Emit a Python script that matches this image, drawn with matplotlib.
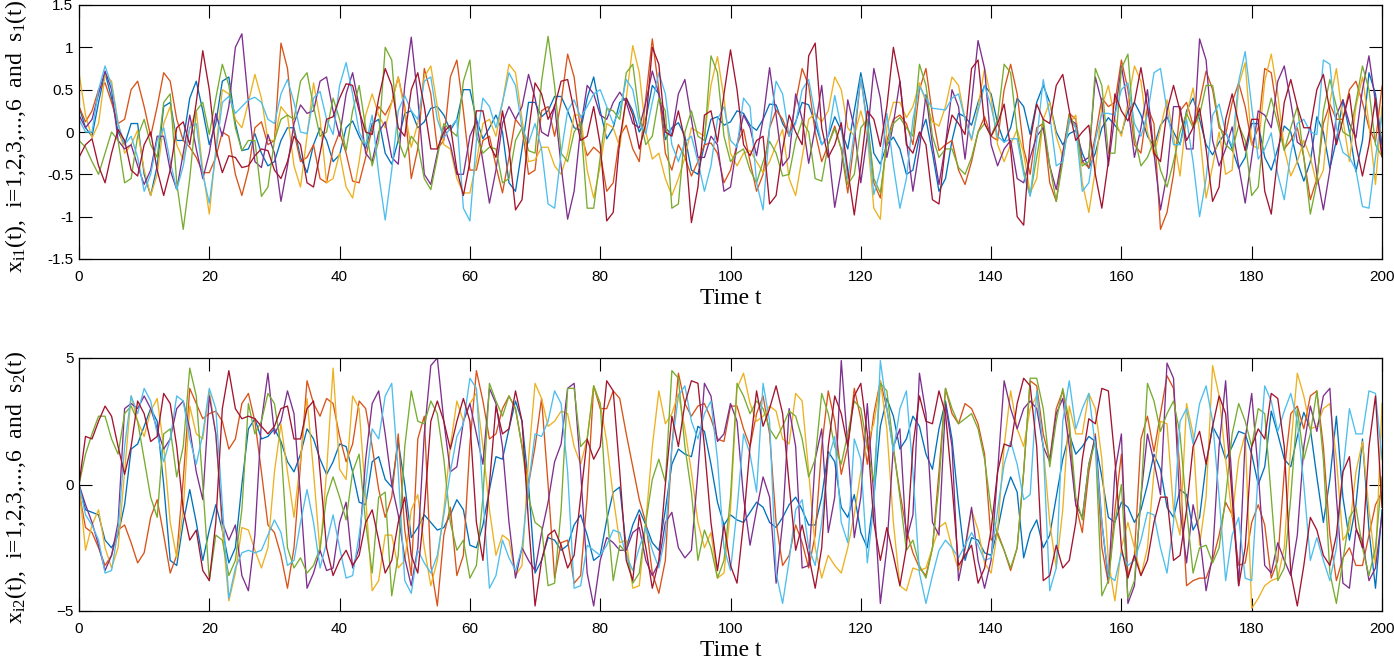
import numpy as np
import matplotlib
matplotlib.use("Agg")
import matplotlib.pyplot as plt

# values, one per time unit (10 per row)
time_t = np.arange(0, 201)

####################################
#              x_i1(t)             #
####################################
x1_blue = [
    .30, .05, -.05, .35, .70, .40, .00, -.15, .10, .10,
    -.50, -.75, -.40, .30, .35, -.10, -.10, .40, .60, .25,
    -.15, .10, .60, .65, .10, -.22, -.20, -.02, -.25, -.40,
    -.35, -.10, .05, .05, -.30, -.48, -.15, .05, -.10, -.35,
    -.27, .05, .13, -.05, -.20, .10, .15, -.25, -.38, -.10,
    .22, .25, .05, .12, .28, .30, .20, .02, .15, .50,
    .50, .15, -.08, .05, .20, .00, -.60, -.70, -.20, .35,
    .35, .18, .25, .42, .42, .25, .05, .02, .40, .65,
    .25, -.08, .05, .35, .40, .25, .00, .15, .55, .45,
    -.09, .05, .11, -.05, -.45, -.50, -.15, .15, .18, .08,
    .12, .25, .22, .08, .02, .15, .33, .32, .10, -.03,
    .12, .35, .32, .10, -.15, -.05, .18, .02, -.20, .25,
    .70, .30, -.25, -.38, -.15, -.06, -.20, -.50, -.45, -.05,
    .15, -.25, -.70, -.55, -.10, .22, .18, .08, .35, .55,
    .45, .10, -.12, .05, .40, .30, -.03, .35, .55, .35,
    .00, -.15, -.02, .02, -.25, -.43, -.25, .05, .17, .08,
    -.02, .25, .35, .20, -.05, -.17, .08, .18, .00, -.15,
    .25, .40, .15, -.15, -.27, -.12, .00, -.20, -.43, -.30,
    .10, .10, -.30, -.45, -.20, .07, .00, -.35, -.58, -.35,
    .18, .00, -.43, -.10, .38, .00, -.47, -.10, .70, .45,
    -.15,
]
x1_orange = [
    .30, .12, .25, .50, .58, .35, .10, .15, .50, .60,
    .30, -.05, .30, .70, .60, .15, -.10, -.18, -.30, -.48,
    -.48, -.30, .00, -.05, -.50, -.75, -.45, .05, .12, -.15,
    -.10, 1.05, .75, .00, -.35, -.30, -.15, -.55, -.60, -.20,
    .00, -.25, -.58, -.60, -.30, .05, .30, .20, .35, .65,
    .30, -.55, -.20, .75, .45, -.20, -.10, .65, .85, .25,
    -.45, -.45, -.10, -.05, -.40, -.72, -.30, .15, .05, -.50,
    -.45, .25, .30, -.05, .35, .92, .65, .00, -.28, -.18,
    -.25, -.70, -.60, -.05, .08, -.20, -.35, .40, 1.10, .50,
    -.25, -.45, -.15, -.30, -.52, -.35, -.15, -.13, -.25, -.60,
    -.45, -.15, .03, -.35, -.70, -.50, .05, .26, .15, -.05,
    .35, .75, .55, .00, -.35, -.15, .07, -.20, -.72, -.10,
    .65, .10, -.60, -.78, -.10, .15, .20, .10, -.15, .50,
    .75, .20, -.22, -.15, -.10, -.45, -.62, -.35, .00, .18,
    -.05, -.10, .50, .80, .45, -.20, -.50, .05, .10, -.60,
    -.82, -.25, .22, .15, -.35, -.42, -.05, .40, .30, .35,
    .85, .50, -.15, -.25, .30, .10, -1.15, -.95, -.50, .25,
    .35, .08, .35, .72, .50, .05, -.03, .35, .58, .30,
    -.15, .05, .75, .70, .20, -.20, -.10, .05, -.30, -.80,
    -.55, .10, .33, .15, .15, .50, .60, .35, .05, -.12,
    .54,
]
x1_yellow = [
    .70, .20, -.07, .10, .68, .60, .10, -.25, -.15, .02,
    -.45, -.75, -.50, .10, .30, -.15, -.33, .05, .25, -.45,
    -.97, -.20, .50, .45, .15, .05, .35, .68, .40, -.10,
    -.10, .30, .20, -.40, -.65, -.05, .58, .15, -.60, -.55,
    -.25, -.65, -.78, -.35, .20, .45, .20, .05, .35, .65,
    .25, -.18, .10, .65, .78, .30, -.15, -.20, -.55, -.72,
    -.72, -.35, .10, .15, -.05, .35, .80, .70, .15, -.35,
    -.33, -.18, -.18, -.40, -.50, -.25, .20, .20, -.45, -.78,
    -.40, .10, .05, -.18, .40, 1.02, .70, .00, -.32, -.25,
    -.55, -.75, -.55, -.30, .05, .00, -.05, .55, .89, .40,
    -.25, -.40, -.25, -.22, -.35, -.48, -.35, -.15, .03, -.55,
    -.75, -.30, .15, .22, .12, .25, .65, .50, .05, -.05,
    .25, -.05, -.90, -1.03, .05, .35, .35, .17, .30, .58,
    .35, .12, .07, .30, .65, .55, .15, -.10, .30, .75,
    .40, -.15, -.35, -.15, .03, -.25, -.72, -.55, .15, .35,
    -.05, -.30, .10, .20, -.60, -.95, -.45, .30, .55, .15,
    -.05, .35, .78, .60, .00, -.28, .05, .38, -.05, -.52,
    .20, .52, .00, -.78, -.40, .00, -.50, -.45, .55, .82,
    -.15, -.20, .60, .92, .45, -.20, -.52, -.35, -.10, -.30,
    -.62, -.45, .35, .75, .15, -.35, .30, .65, .10, -.62,
    .30,
]
x1_purple = [
    .20, .05, .15, .45, .72, .50, -.10, -.20, -.15, -.40,
    -.62, -.45, -.05, -.05, -.45, -.68, -.25, .20, -.20, -.55,
    -.25, .22, -.05, .30, 1.00, 1.16, .35, -.35, -.42, -.03,
    -.25, -.82, -.40, .10, .32, .22, .25, .60, .65, .25,
    -.05, .45, .70, .30, -.25, -.35, .00, .12, -.30, -.38,
    .55, 1.12, .40, -.50, -.62, -.25, .07, -.15, -.50, -.50,
    -.05, .13, -.35, -.84, -.45, .10, .30, .15, .30, .68,
    .40, .00, -.05, .32, -.40, -1.03, -.70, .05, .55, .45,
    .20, .15, .35, .47, .35, .10, .05, .35, .72, .45,
    .05, -.03, .45, .62, .15, -.30, -.30, -.05, -.15, -.70,
    -.65, -.15, .20, .05, -.28, .15, .76, .20, -.40, -.30,
    .45, .15, -.37, .05, .55, -.20, -.89, -.45, .38, .05,
    -.60, -.05, .75, .40, -.30, .10, .60, -.10, -.70, -.20,
    .44, -.15, -.62, -.15, .50, .30, -.32, .35, 1.08, .75,
    -.15, -.40, -.20, -.10, -.55, -.60, -.30, -.05, .05, -.40,
    -.68, -.25, .15, .10, -.35, -.30, .65, .35, -.40, .20,
    .78, .30, -.30, .05, .50, -.25, -.92, -.50, .30, .30,
    -.20, -.20, 1.10, .85, -.10, -.40, -.20, .06, -.40, -.84,
    -.30, .25, .20, .05, .60, .78, .35, -.12, -.18, .06,
    -.50, -.92, -.45, .20, .38, .10, -.07, .50, .90, .35,
    -.29,
]
x1_green = [
    -.10, -.18, -.35, -.50, -.25, .00, -.10, -.60, -.55, -.05,
    .15, -.15, -.30, .35, .45, -.60, -1.15, -.55, .25, .35,
    -.03, .40, .80, .55, .05, -.22, -.10, -.10, -.76, -.65,
    -.10, .15, .20, .15, .60, .70, .30, -.05, .00, .40,
    .15, -.22, .25, .55, .05, -.40, -.10, 1.00, .85, -.10,
    -.30, -.05, -.15, -.55, -.68, -.30, .10, .02, -.05, .60,
    .85, -.05, -.25, -.18, -.20, -.60, -.55, -.10, .05, -.22,
    -.25, .60, 1.13, .55, -.25, -.35, .00, .12, -.90, -.90,
    -.30, .28, .25, .15, .70, .80, .20, -.15, -.05, .40,
    .25, -.90, -.85, .00, .25, -.05, -.10, .90, .70, -.05,
    -.35, -.25, -.20, -.45, -.60, -.35, -.11, -.25, -.52, -.50,
    -.10, .13, .00, -.55, -.58, -.15, .04, -.20, -.62, -.50,
    .05, .15, -.55, -.72, -.15, .10, .17, .05, -.05, .80,
    .55, -.05, -.30, -.20, -.20, -.42, -.50, -.30, .00, .10,
    -.05, .15, .80, .70, .00, -.45, -.75, -.30, .15, -.40,
    -.82, -.35, .20, .05, -.40, -.35, .75, .55, -.25, -.25,
    .75, .92, -.05, -.40, -.30, -.10, -.45, -.65, -.35, .00,
    .22, .05, .20, .55, .55, .10, -.15, -.22, .08, -.10,
    -.75, -.65, .10, .40, .10, -.22, .05, .30, -.30, -.97,
    -.60, .25, .62, .30, .00, -.05, .35, .78, .50, -.15,
    -.29,
]
x1_lightblue = [
    .15, .00, .00, .50, .78, .55, .10, -.15, -.05, -.30,
    -.70, -.50, -.10, .05, -.35, -.68, -.40, .05, .10, -.50,
    -.84, -.25, .35, .42, .22, .30, .38, .41, .35, .15,
    .10, .45, .62, .35, .00, -.02, .40, .48, .15, -.03,
    .55, .82, .45, .00, -.15, .20, -.50, -1.04, -.45, .25,
    .43, .25, .15, .60, .65, .15, -.07, .05, .15, -.90,
    -1.05, -.10, .40, .30, .05, .35, .70, .55, .05, -.13,
    .10, -.20, -.85, -.90, -.25, .25, .38, .17, .30, .45,
    .50, .30, .10, .25, .62, .50, .10, -.02, .35, .70,
    .45, -.15, -.35, -.12, -.05, -.35, -.70, -.40, .15, .30,
    -.10, -.18, .40, .30, -.60, -.92, .05, .60, .45, -.05,
    .10, .50, .62, .20, -.15, -.05, .43, .05, -.55, .00,
    .65, .05, -.74, -.45, .22, -.40, -.90, -.55, .15, .54,
    .40, .28, .27, .26, .40, .45, .15, -.08, .25, .55,
    .30, -.05, -.12, -.08, -.08, -.50, -.76, -.10, .62, .20,
    -.40, -.35, .15, .05, -.70, -.60, -.10, .22, .22, .20,
    .50, .58, .10, -.05, .20, .70, .75, .25, -.15, -.15,
    .15, -.35, -1.00, -.55, .20, .33, .00, -.17, .60, .95,
    .30, -.32, -.20, -.01, -.50, -.80, -.25, .10, .15, .00,
    -.03, .85, .80, .05, -.24, -.30, -.45, -.88, -.90, -.30,
    .20,
]
x1_maroon = [
    -.30, -.15, -.08, -.40, -.60, -.25, .03, -.10, -.45, -.52,
    -.15, .00, -.45, -.75, -.45, .05, .12, -.15, .35, .96,
    .50, -.20, -.48, -.28, -.30, -.42, -.40, -.28, -.20, -.22,
    -.45, -.55, -.35, -.05, -.15, -.60, -.65, -.25, .15, .18,
    .40, .57, .55, .25, .00, -.03, .40, .75, .55, .05,
    -.05, .50, .70, .30, -.20, -.20, .00, .08, -.45, -.75,
    -.35, .25, .25, -.15, -.30, .25, -.20, -.92, -.80, .00,
    .58, .45, .15, .30, .60, .62, .25, -.10, -.05, .30,
    -.15, -1.05, -.95, -.10, .40, .20, -.20, .10, 1.00, .80,
    .00, -.05, .25, -.10, -1.07, -.65, .20, .25, -.12, .45,
    .97, .50, -.15, -.28, -.10, -.05, -.85, -.75, -.20, .20,
    .00, -.15, .90, 1.05, .05, -.30, -.15, .11, -.45, -.98,
    -.40, .25, .15, -.17, .30, 1.00, .60, -.15, -.25, .00,
    -.15, -.80, -.85, -.15, .20, .10, -.03, .75, .85, .10,
    -.05, .10, .33, -.20, -1.00, -1.10, -.10, .33, .15, .10,
    .55, .68, .25, -.10, .00, .08, -.50, -.90, -.35, .45,
    .25, .13, .35, .76, .30, -.25, -.35, .25, .55, .25,
    -.10, .05, .28, -.20, -.82, -.65, .15, .45, .10, -.22,
    .15, .15, -.70, -.97, -.30, .35, .62, .30, .05, .05,
    .50, .68, .25, -.15, .15, .45, -.15, -.52, -.15, .40,
    -.29,
]

####################################
#              x_i2(t)             #
####################################
x2_blue = [
    0, -1.0, -1.1, -1.2, -2.2, -2.5, -2.0, -.8, 1.4, 1.6,
    2.3, 3.0, 2.5, .0, -3.0, -3.2, -1.5, -.2, -1.5, -3.0,
    -1.8, -.8, -1.8, -3.1, -2.5, .0, 2.2, 2.6, 1.8, 1.9,
    2.2, 1.7, .9, .5, 1.2, 2.2, 1.8, 1.0, .4, .9,
    1.6, 1.5, .5, -.7, -.8, .9, 1.1, .2, -.1, 1.7,
    .0, -2.1, -1.7, -1.2, -1.5, -1.8, -1.7, -1.2, -.6, -1.0,
    -2.4, -2.5, -1.6, -.2, 1.1, 1.0, 2.2, 3.3, 2.5, .0,
    -3.5, -3.0, -2.1, -2.2, -2.6, -2.4, -1.6, -1.2, -2.0, -3.0,
    -2.8, -1.4, -.3, -.1, -2.5, -1.6, -1.0, -1.6, -2.3, -2.6,
    -1.0, .8, 1.4, 1.2, 1.1, 2.3, 2.1, .8, -.7, -1.6,
    -1.2, -1.4, -1.5, -1.1, -.7, -.9, -1.5, -1.7, -1.3, -.8,
    -.5, -1.0, -1.6, -1.6, -.5, 1.3, .9, -.9, -1.3, -.4,
    -1.9, -2.5, -.5, 2.3, 3.4, 2.7, 1.4, 1.8, 2.7, 2.3,
    1.2, .6, 2.2, 3.3, 1.8, -.8, -3.0, -2.1, -2.2, -2.7,
    -2.8, -1.8, -.5, .3, -.3, -2.9, -1.9, -1.4, -2.5, -2.0,
    -.5, 1.0, 2.0, 1.2, 1.5, 1.9, 1.7, .3, -1.3, -1.5,
    -.7, -.9, -1.5, -1.0, .0, 1.2, .6, -.9, -1.3, -.2,
    -.4, -1.8, -1.3, .8, 2.3, 1.8, 1.0, 1.5, 2.1, 2.0,
    1.2, .0, .7, 2.9, 2.0, 1.0, .7, 1.9, 2.85, 2.2,
    .3, -1.5, .2, 2.7, -.5, -2.2, -.8, 1.8, -1.8, -4.1,
    -1.0,
]
x2_orange = [
    -.3, -1.7, -1.9, -2.5, -3.2, -2.8, -1.8, -1.6, -2.3, -3.1,
    -2.7, -1.3, -.6, -2.0, -3.5, -2.8, .2, 3.8, 3.2, 2.6,
    2.8, 2.9, 2.5, 1.4, 1.8, 3.2, 3.6, 2.5, .5, -1.6,
    -1.9, -2.8, -4.1, -2.5, .8, 4.1, 3.2, 2.7, 3.4, 3.2,
    1.9, .9, 1.6, 3.3, 3.0, 1.5, -.2, -1.3, -.5, 2.0,
    -1.8, -3.6, 1.8, 2.7, -3.2, -4.8, -2.0, -.9, -3.6, -2.8,
    1.6, 4.5, 3.3, 1.8, 2.0, 3.0, 3.5, 3.0, 1.5, .0,
    1.5, 3.4, .0, -3.7, -2.3, -2.2, -3.9, -3.6, -.5, 3.9,
    3.0, 3.0, 3.7, 3.4, 2.0, .7, -.6, -1.5, -3.5, -4.3,
    -3.0, 1.5, 4.4, 3.2, 2.7, 3.1, 3.2, 2.6, 1.8, 1.7,
    3.1, 3.1, 2.2, 1.5, 2.8, 3.5, 2.0, -1.5, -3.2, -2.8,
    -1.6, -2.3, -3.3, -2.0, 1.5, 3.7, 2.5, .4, 1.5, 3.8,
    2.6, .8, 2.8, 4.1, 3.0, 1.4, -.3, -1.8, -2.7, -3.3,
    -3.6, -2.5, .5, 3.8, 2.8, 2.4, 3.2, 3.0, 2.4, 1.2,
    -2.2, -1.9, -2.6, -3.4, -2.5, .5, 4.1, 3.9, 2.0, 1.0,
    3.0, 3.7, 2.2, -.8, -1.9, .5, 2.0, -2.5, -3.9, -1.0,
    1.2, -3.6, -2.8, 1.8, 2.7, 1.3, 2.8, 4.3, 3.8, .5,
    -4.0, -3.8, -3.7, -3.7, -3.0, -2.0, -.7, -1.2, -3.2, -3.1,
    -1.5, -.8, -1.6, -3.7, -3.0, .5, 2.8, 3.1, 2.2, 3.5,
    3.7, 1.5, -2.0, -3.8, -2.9, -2.5, -3.2, -3.2, -2.0, -.8,
    -.3,
]
x2_yellow = [
    0, -2.6, -1.6, -1.0, -2.5, -3.3, -2.5, .5, 3.5, 2.5,
    1.9, 2.9, 3.4, 1.5, -1.5, -2.9, -1.0, 3.1, 2.0, 1.8,
    3.7, 2.0, -1.8, -4.6, -3.5, -1.7, -1.8, -2.6, -3.3, -2.5,
    .5, 2.4, .5, -1.3, 1.0, 3.4, .5, -2.7, .5, 4.6,
    .6, .2, 3.5, 3.0, -.5, -4.2, -3.8, -2.0, -2.0, -3.3,
    -3.0, -1.0, -.4, -2.5, -4.0, -3.0, -1.0, 1.5, 3.3, 2.5,
    3.2, 3.6, 1.5, -1.0, -2.8, -2.0, -2.2, -3.6, -3.2, 1.0,
    4.0, 3.4, 2.3, 2.5, 2.9, 2.8, 1.5, .8, 1.8, 3.9,
    3.2, 1.7, -.5, -2.3, -2.2, -4.1, -4.0, -1.5, 1.5, 3.7,
    2.4, 2.8, 3.6, 2.2, .5, -1.5, -2.5, -1.9, -3.7, -3.5,
    -1.0, 3.8, 4.4, 3.2, 2.5, 2.7, 3.1, 2.9, 1.8, 1.6,
    3.6, 3.3, .5, -2.5, -3.7, -2.8, -3.2, -3.5, -2.5, -1.2,
    .5, 1.7, 2.4, 4.1, 2.2, -1.5, -4.0, -4.2, -3.3, -3.4,
    -3.3, -2.5, -1.7, -1.5, -2.5, -3.4, -2.6, -1.0, -1.8, -3.1,
    -3.5, -1.8, 1.5, 3.7, 2.2, 1.5, 3.0, 3.5, 1.5, -1.5,
    -3.3, -1.0, 3.1, 2.0, 2.0, 3.6, 3.0, 1.0, -3.0, -4.6,
    -2.5, -1.5, -2.5, -3.6, -2.5, .5, 2.5, 2.4, -1.0, -2.0,
    3.2, 2.0, -2.4, -.5, 4.7, 3.5, 1.0, -1.3, 1.0, 2.0,
    -4.9, -4.5, -4.0, -3.8, -3.7, -2.5, 1.5, 4.4, 3.5, 2.2,
    2.3, 3.0, 3.2, 1.0, -2.2, -1.8, .5, 1.7, -1.0, -3.2,
    3.2,
]
x2_purple = [
    0, -.8, -1.5, -2.4, -3.4, -2.8, -1.5, 3.0, 3.2, 3.0,
    3.5, 3.0, 2.2, 1.4, 1.8, 3.0, 3.3, 2.2, .5, -.6,
    3.5, 2.0, -1.5, -2.2, -1.6, -3.6, -4.2, -2.0, 2.5, 4.4,
    2.0, 2.5, 3.7, 2.8, -.5, -4.1, -3.5, -2.6, -3.4, -3.3,
    -1.5, -.7, -3.3, -2.5, 1.0, 3.2, 3.7, 2.0, .0, -1.2,
    -2.9, -4.0, -2.5, 2.0, 4.7, 5.0, 2.5, .5, .7, 2.5,
    3.2, 2.0, .8, 3.8, 3.2, 1.5, -1.5, -3.7, -2.5, -3.0,
    -3.4, -1.9, -.7, .9, 1.6, 3.8, 4.0, .5, -3.5, -4.8,
    -3.0, -2.1, -2.3, -2.6, -2.6, -1.9, -1.7, -3.0, -3.6, -3.1,
    -1.5, -1.1, -2.5, -2.9, -2.6, .5, 4.0, 3.5, 1.7, 2.0,
    3.2, 2.5, -.5, -2.4, -1.0, .3, -.5, -3.9, -1.5, 3.0,
    1.5, -3.3, -3.2, 1.0, 2.2, -1.9, -.5, 4.9, 1.5, -2.1,
    -.5, 3.2, -.5, -4.7, -2.5, 1.5, 2.2, -2.2, -1.2, 4.4,
    2.8, -1.5, -2.0, 3.2, 1.5, -3.8, -2.5, -.9, -3.0, -4.1,
    -3.0, .5, 4.1, 3.0, 2.2, 3.0, 3.3, 3.0, 1.5, .9,
    2.8, 3.4, 1.5, -.8, -1.3, .8, 1.9, -1.5, -3.8, .5,
    2.0, -4.7, -4.0, -.5, 2.0, .9, -.4, 4.8, 4.2, -1.0,
    -3.1, -.8, -2.0, -4.2, -2.8, 1.5, 4.1, .0, -4.0, 1.8,
    3.6, .5, -3.2, -3.5, -2.3, -3.0, -3.6, -2.0, 1.5, 3.1,
    2.1, 3.5, 3.8, -.5, -3.9, -4.1, -1.8, -2.2, -3.8, -3.3,
    -1.2,
]
x2_green = [
    0, 1.2, 2.0, 2.7, 2.7, 1.8, 1.2, 2.8, 3.1, 2.5,
    1.0, -.5, -1.3, 2.0, 2.2, .3, 1.5, 4.6, 3.5, .0,
    -3.8, -2.0, -2.2, -3.6, -3.0, -1.0, 3.2, 2.0, 2.5, 3.6,
    3.2, 1.5, -2.5, -3.3, -2.9, -3.5, -3.2, -2.5, -.5, .3,
    -.5, -1.4, .5, 1.2, -1.5, -3.5, -.5, -.3, -4.4, -2.8,
    1.5, 3.7, 2.5, 2.4, 3.3, 2.8, 1.0, -1.5, -2.6, -2.2,
    -3.7, -3.2, -.5, 4.0, 3.3, 2.7, 3.5, 3.0, 1.5, -.5,
    -1.5, -1.7, -4.0, -3.9, -1.0, 3.8, 3.8, 1.5, 1.8, 3.9,
    3.2, -1.0, -3.8, -2.4, -2.7, -3.9, -3.5, -1.5, .2, 1.0,
    .1, 4.5, 4.2, 1.5, -.3, -3.0, -1.8, -2.5, -3.7, -3.0,
    -.5, 4.0, 3.5, 2.8, 3.3, 3.0, 2.2, 1.8, 2.3, 2.9,
    2.7, 1.8, .3, 1.0, 3.6, 2.8, 1.5, .8, 2.0, 3.3,
    3.0, 1.5, .1, 4.0, 3.7, 1.5, -.5, -2.6, -2.2, -3.2,
    -3.7, -2.5, .0, 3.8, 3.0, 2.4, 2.6, 2.8, 2.2, 1.0,
    -1.0, -2.0, -2.6, -3.3, -2.5, .5, 4.2, 4.2, 3.0, .7,
    2.5, 3.8, 2.5, -.5, -1.4, .8, 1.7, -4.4, -3.8, -1.5,
    .0, -4.5, -3.8, -.5, 4.0, 3.3, 2.1, 2.8, 3.3, 2.0,
    -1.0, -3.5, -2.5, -2.4, -3.1, -2.5, -.5, 2.0, 3.2, 2.5,
    1.5, 3.0, 2.8, -.5, -3.8, -3.3, -.5, 3.0, 1.0, 2.0,
    3.7, 1.0, -3.5, -4.7, -3.0, -1.3, -.9, -2.5, -3.6, -2.5,
    .3,
]
x2_lightblue = [
    0, -1.2, -1.6, -2.2, -3.5, -3.4, -1.8, 1.5, 3.5, 2.8,
    3.8, 3.3, 2.0, .9, 1.8, 3.5, 3.3, 1.8, .8, 2.0,
    3.8, 3.0, -.8, -4.5, -3.3, -2.7, -2.6, -2.7, -2.6, -2.0,
    -1.4, -1.9, -3.2, -3.0, -1.5, -.2, -1.5, -3.3, -2.3, -1.2,
    -2.5, -3.7, -3.6, -2.0, .0, 2.2, 1.8, 3.5, 4.0, .5,
    -3.8, -4.3, -2.6, -3.1, -3.5, -2.8, -1.2, .5, 1.9, 2.4,
    4.2, 3.8, -.5, -4.1, -3.6, -2.2, -2.9, -3.4, -2.5, .0,
    2.0, 1.9, 2.5, 3.7, 3.2, .5, -4.1, -4.0, -2.4, -2.6,
    -2.8, -2.4, -1.8, -1.9, -2.8, -3.4, -2.5, -1.7, -2.6, -3.3,
    -2.0, 1.5, 3.5, 3.9, 2.5, 1.8, 2.8, 3.3, 1.0, -2.5,
    -3.4, -1.0, 2.0, 1.2, -.3, 4.0, 2.5, -3.5, -4.7, -3.0,
    -1.0, -.6, -2.5, -3.2, -1.5, 1.0, 1.9, -1.5, -2.3, 1.8,
    1.0, -3.1, -.8, 4.9, 3.0, 1.3, 3.0, 3.7, .5, -3.5,
    -4.7, -3.6, -2.6, -2.2, -2.5, -2.9, -2.4, -1.9, -2.4, -3.0,
    -2.9, -1.0, .8, 1.7, .8, -.6, -.4, 3.7, 1.5, -4.2,
    -3.3, 2.5, 4.1, 2.2, 3.0, 3.6, 1.5, -1.5, -3.6, -3.8,
    -2.7, -3.2, -3.0, -2.2, -1.1, -1.2, -2.5, -3.5, -1.5, 2.5,
    3.0, 1.6, 3.2, 3.9, 2.5, -.5, -3.8, -2.0, -1.3, -3.7,
    -3.8, .5, 3.9, 3.3, 2.1, 2.9, 3.6, 2.5, .0, -3.0,
    -2.1, -3.0, -3.8, -2.5, .5, 3.0, 2.0, 2.0, 3.7, 3.6,
    1.0,
]
x2_maroon = [
    0, 1.9, 1.8, 2.5, 3.1, 2.7, 1.5, .4, 1.5, 3.3,
    2.8, 1.7, 1.9, 3.6, 3.2, 1.5, -1.0, -2.2, -1.8, -3.4,
    -3.8, -1.5, 3.0, 4.5, 3.0, 2.6, 2.7, 2.6, 2.3, 2.0,
    2.3, 3.0, 3.1, 1.8, 1.8, 3.0, 3.3, .5, -2.5, -3.6,
    -3.0, -2.6, -3.2, -2.8, -1.5, -1.0, -2.2, -3.5, -3.0, -1.5,
    -.5, -2.8, -3.5, -1.0, 2.5, 3.3, 2.5, 1.4, 2.5, 3.4,
    2.5, -1.5, -3.0, .0, 3.1, 2.0, 2.2, 3.7, 2.5, -1.5,
    -4.8, -3.0, -2.0, -1.8, -2.4, -3.3, -2.8, -.5, 1.8, 1.0,
    1.5, 4.1, 3.7, .5, -3.0, -3.8, -1.2, -2.5, -4.1, -3.0,
    .0, 2.7, 1.5, 3.2, 4.1, 4.0, 1.5, -1.5, -3.4, -1.6,
    -3.2, -3.9, -1.5, 1.5, 3.7, 2.3, 3.0, 3.9, 2.8, .0,
    -2.6, -1.6, -2.8, -4.1, -2.5, 1.5, 3.5, 2.8, 1.5, 3.5,
    4.0, 2.0, -1.5, -3.0, -1.7, -2.8, -4.0, -2.5, 1.5, 3.5,
    2.5, 2.4, 3.7, 2.8, .0, -3.2, -2.8, -2.4, -3.9, -3.3,
    -1.8, .5, 1.6, 1.5, 3.2, 4.2, 3.9, 1.5, -3.8, -3.6,
    -2.4, -3.3, -3.0, -1.5, 1.0, 2.6, 2.4, 3.8, 3.7, 1.0,
    -2.5, -3.7, -2.8, -3.6, -3.0, -1.5, -.5, -.5, -3.0, -2.8,
    -1.0, 1.5, 2.1, .8, 2.3, 3.5, 2.8, -.5, -4.0, -2.5,
    1.5, 2.2, 1.8, 3.6, 3.4, 1.5, -3.5, -4.8, -3.2, -1.3,
    -1.8, -2.8, -3.2, -2.0, .5, 1.1, -1.7, -2.5, 1.5, 3.5,
    -.9,
]

colors = ["#0072BD", "#D95319", "#EDB120", "#7E2F8E", "#77AC30", "#4DBEEE", "#A2142F"]
top_series = [x1_blue, x1_orange, x1_yellow, x1_purple, x1_green, x1_lightblue, x1_maroon]
bottom_series = [x2_blue, x2_orange, x2_yellow, x2_purple, x2_green, x2_lightblue, x2_maroon]

xticks = [0, 20, 40, 60, 80, 100, 120, 140, 160, 180, 200]
yticks_top = [-1.5, -1, -0.5, 0, 0.5, 1, 1.5]
ylabels_top = ["-1.5", "-1", "-0.5", "0", "0.5", "1", "1.5"]
yticks_bottom = [-5, 0, 5]

plt.rcParams["font.family"] = ["Liberation Sans", "DejaVu Sans"]
plt.rcParams["mathtext.fontset"] = "custom"
plt.rcParams["mathtext.rm"] = "Liberation Serif"
plt.rcParams["mathtext.default"] = "regular"

W, H = 1394, 659
fig = plt.figure(figsize=(W / 100, H / 100), dpi=100)
ax1 = fig.add_axes([79 / W, 1 - 259 / H, (1382 - 79) / W, 254 / H])
ax2 = fig.add_axes([79 / W, 1 - 611 / H, (1382 - 79) / W, 253 / H])

for ax, series in ((ax1, top_series), (ax2, bottom_series)):
    for vals, c in zip(series, colors):
        ax.plot(time_t, vals, color=c, lw=0.95)
    ax.set_xlim(0, 200)
    ax.set_xticks(xticks)
    ax.tick_params(direction="in", top=True, right=True, length=9.5, width=0.8,
                   labelsize=11)
    ax.tick_params(axis="x", pad=8)
    ax.tick_params(axis="y", pad=4)
    for s in ax.spines.values():
        s.set_linewidth(0.9)
    ax.set_xlabel("Time t", family="Liberation Serif", fontsize=17, labelpad=3)

ax1.set_ylim(-1.5, 1.5)
ax1.set_yticks(yticks_top)
ax1.set_yticklabels(ylabels_top)
ax2.set_ylim(-5, 5)
ax2.set_yticks(yticks_bottom)

ax1.text(16 / W, 1 - 136 / H, r"x$_{i1}$(t),  i=1,2,3,...,6  and  s$_{1}$(t)",
         transform=fig.transFigure, rotation=90, ha="center", va="center",
         family="Liberation Serif", fontsize=17)
ax2.text(16 / W, 1 - 487 / H, r"x$_{i2}$(t),  i=1,2,3,...,6  and  s$_{2}$(t)",
         transform=fig.transFigure, rotation=90, ha="center", va="center",
         family="Liberation Serif", fontsize=17)

fig.savefig("out.png", dpi=100)
